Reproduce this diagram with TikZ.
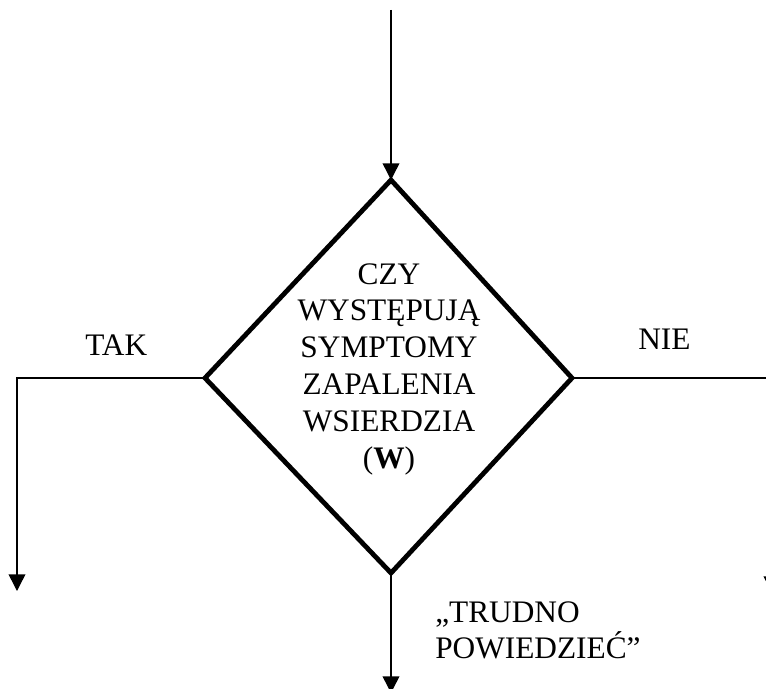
\documentclass[tikz,border=0pt]{standalone}
\usepackage{fontspec}
\setmainfont{Liberation Serif}
\usetikzlibrary{arrows.meta}
\begin{document}
\begin{tikzpicture}[x=0.75pt,y=-0.75pt,
  conn/.style={line width=1.1pt,-{Triangle[length=12.5pt,width=12.5pt]}},
  decision/.style={line width=3.6pt,line join=miter,miter limit=10},
  lbl/.style={inner sep=0pt,font=\fontsize{23.5}{27.6}\selectfont}]
\useasboundingbox (0,0) rectangle (766,688);
\clip (0,0) rectangle (766,688);
% diamond vertices
\coordinate (dt) at (391,180);
\coordinate (dr) at (572,378);
\coordinate (db) at (391,573);
\coordinate (dl) at (205,378);
% connector ends
\coordinate (start) at (391,10);
\coordinate (lc) at (17,378);
\coordinate (lend) at (17,591);
\coordinate (rc) at (772,378);
\coordinate (rend) at (772,593);
\coordinate (bend) at (391,693);
% connectors
\draw[conn] (start) -- (dt);
\draw[conn] (dl) -- (lc) -- (lend);
\draw[conn] (dr) -- (rc) -- (rend);
\draw[conn] (db) -- (bend);
% diamond
\draw[decision,fill=white] (dt) -- (dr) -- (db) -- (dl) -- cycle;
% texts
\node[lbl,anchor=north,align=center] (q) at (389,263)
  {CZY\\WYSTĘPUJĄ\\SYMPTOMY\\ZAPALENIA\\WSIERDZIA\\(\textbf{W})};
\node[lbl,anchor=base west] (tak) at (85,355) {TAK};
\node[lbl,anchor=base west] (nie) at (638,349) {NIE};
\node[lbl,anchor=north west,align=left] (tp) at (435,601) {„TRUDNO\\POWIEDZIEĆ”};
\end{tikzpicture}
\end{document}
